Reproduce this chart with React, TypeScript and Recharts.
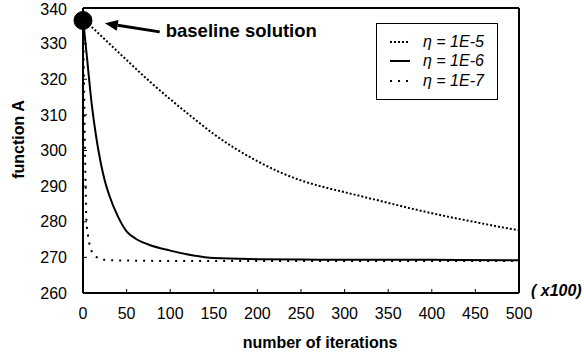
import React from 'react';
import { LineChart, Line, XAxis, YAxis, Legend, ReferenceDot, ReferenceLine, Label } from 'recharts';

const xTicks = [0, 50, 100, 150, 200, 250, 300, 350, 400, 450, 500];
const yTicks = [260, 270, 280, 290, 300, 310, 320, 330, 340];

// eta = 1E-5 (slow decay)
const iterSlow = [0, 25, 50, 75, 100, 125, 150, 175, 200, 225, 250, 275, 300, 325, 350, 375, 400, 425, 450, 475, 500];
const valuesSlow = [337, 331.2, 325.4, 319.7, 314.4, 309.4, 304.6, 300.5, 297.0, 294.0, 291.6, 289.8, 288.3, 286.8, 285.3, 283.8, 282.4, 281.1, 279.9, 278.7, 277.6];

// eta = 1E-6
const iterMid = [0, 5, 10, 15, 20, 25, 30, 40, 50, 60, 75, 100, 125, 150, 200, 250, 300, 400, 500];
const valuesMid = [337, 325, 313, 304, 297, 291.5, 287.5, 281.5, 277.3, 275.3, 273.6, 271.9, 270.6, 269.8, 269.5, 269.4, 269.3, 269.3, 269.2];

// eta = 1E-7 (fast drop)
const iterFast = [0, 1, 2, 3, 4, 6, 8, 12, 16, 25, 50, 100, 200, 300, 400, 500];
const valuesFast = [337, 322, 305, 290, 280, 275.8, 273, 271, 270, 269.3, 269.1, 269, 269, 269, 269, 269];

const baseline = { x: 0, y: 336.5 };
const arrowTail = { x: 88, y: 333.3 };
const arrowTip = { x: 25, y: 335.7 };

const slowData = iterSlow.map((x, i) => ({ x, y: valuesSlow[i] }));
const midData = iterMid.map((x, i) => ({ x, y: valuesMid[i] }));
const fastData = iterFast.map((x, i) => ({ x, y: valuesFast[i] }));

const FONT = '"Liberation Sans", Arial, Helvetica, sans-serif';

const series = [
  { name: 'η = 1E-5', data: slowData, dash: '2 2' },
  { name: 'η = 1E-6', data: midData, dash: undefined },
  { name: 'η = 1E-7', data: fastData, dash: '2 6' },
];

const ArrowShape = (props: any) => {
  const { x1, y1, x2, y2 } = props;
  const ang = Math.atan2(y2 - y1, x2 - x1);
  const len = 13;
  const hw = 5.5;
  const bx = x2 - len * Math.cos(ang);
  const by = y2 - len * Math.sin(ang);
  const pts = `${x2},${y2} ${bx - hw * Math.sin(ang)},${by + hw * Math.cos(ang)} ${bx + hw * Math.sin(ang)},${by - hw * Math.cos(ang)}`;
  return (
    <g>
      <line x1={x1} y1={y1} x2={bx} y2={by} stroke="#000" strokeWidth={3} />
      <polygon points={pts} fill="#000" />
      <text x={x1 + 6} y={y1 - 1} dominantBaseline="central" fontFamily={FONT} fontWeight={700} fontSize={18.5} fill="#000">
        baseline solution
      </text>
    </g>
  );
};

const LegendBox = () => (
  <div style={{ width: 122, height: 77, border: '1px solid #000', boxSizing: 'border-box', paddingTop: 8, background: '#fff' }}>
    {series.map(s => (
      <div key={s.name} style={{ display: 'flex', alignItems: 'center', height: 19.5 }}>
        <svg width={20} height={10} style={{ marginLeft: 13 }}>
          <line x1={0} y1={5} x2={20} y2={5} stroke="#000" strokeWidth={2} strokeDasharray={s.dash} />
        </svg>
        <span style={{ marginLeft: 13, fontFamily: FONT, fontStyle: 'italic', fontSize: 16, color: '#000', whiteSpace: 'nowrap' }}>{s.name}</span>
      </div>
    ))}
  </div>
);

export default function App() {
  const tickStyle = { fontSize: 16, fill: '#000', fontFamily: FONT };
  return (
    <div style={{ position: 'absolute', left: 0, top: 0, width: 584, height: 352, background: '#fff' }}>
      <LineChart width={584} height={352} margin={{ top: 0, right: 0, bottom: 0, left: 0 }}>
        <XAxis
          dataKey="x"
          type="number"
          domain={[0, 500]}
          ticks={xTicks}
          height={59}
          tickSize={-4}
          tickMargin={19}
          tick={tickStyle}
          axisLine={{ stroke: '#000', strokeWidth: 2 }}
          tickLine={{ stroke: '#000' }}
        >
          <Label
            content={({ viewBox }: any) => (
              <g>
                <text x={viewBox.x + viewBox.width / 2 + 19} y={viewBox.y + 55} textAnchor="middle" fontFamily={FONT} fontWeight={700} fontSize={16} fill="#000">
                  number of iterations
                </text>
                <text x={viewBox.x + viewBox.width + 12} y={viewBox.y - 3} dominantBaseline="central" fontFamily={FONT} fontWeight={700} fontStyle="italic" fontSize={16} fill="#000">
                  ( x100)
                </text>
              </g>
            )}
          />
        </XAxis>
        <XAxis
          xAxisId="top"
          orientation="top"
          dataKey="x"
          type="number"
          domain={[0, 500]}
          ticks={xTicks}
          height={8}
          tickSize={-4}
          tick={false}
          axisLine={{ stroke: '#000', strokeWidth: 2 }}
          tickLine={{ stroke: '#000' }}
        />
        <YAxis
          type="number"
          domain={[260, 340]}
          ticks={yTicks}
          width={83}
          tickSize={-4}
          tickMargin={20}
          tick={tickStyle}
          axisLine={{ stroke: '#000', strokeWidth: 2 }}
          tickLine={{ stroke: '#000' }}
        >
          <Label
            content={({ viewBox }: any) => {
              const cx = viewBox.x + 18;
              const cy = viewBox.y + viewBox.height / 2 - 11;
              return (
                <text x={cx} y={cy} transform={`rotate(-90 ${cx} ${cy})`} textAnchor="middle" dominantBaseline="central" fontFamily={FONT} fontWeight={700} fontSize={16} fill="#000">
                  function A
                </text>
              );
            }}
          />
        </YAxis>
        <YAxis
          yAxisId="right"
          orientation="right"
          type="number"
          domain={[260, 340]}
          ticks={yTicks}
          width={65}
          tickSize={-4}
          tick={false}
          axisLine={{ stroke: '#000', strokeWidth: 2 }}
          tickLine={{ stroke: '#000' }}
        />
        <Legend
          layout="horizontal"
          verticalAlign="middle"
          align="center"
          wrapperStyle={{ left: 376, top: 23, width: 122, height: 77 }}
          content={() => <LegendBox />}
        />
        {series.map(s => (
          <Line
            key={s.name}
            data={s.data}
            dataKey="y"
            name={s.name}
            type="monotone"
            stroke="#000"
            strokeWidth={2}
            strokeDasharray={s.dash}
            dot={false}
            activeDot={false}
            isAnimationActive={false}
          />
        ))}
        <ReferenceLine segment={[arrowTail, arrowTip]} ifOverflow="visible" shape={ArrowShape} />
        <ReferenceDot x={baseline.x} y={baseline.y} r={9} fill="#000" stroke="#000" ifOverflow="visible" />
      </LineChart>
    </div>
  );
}
